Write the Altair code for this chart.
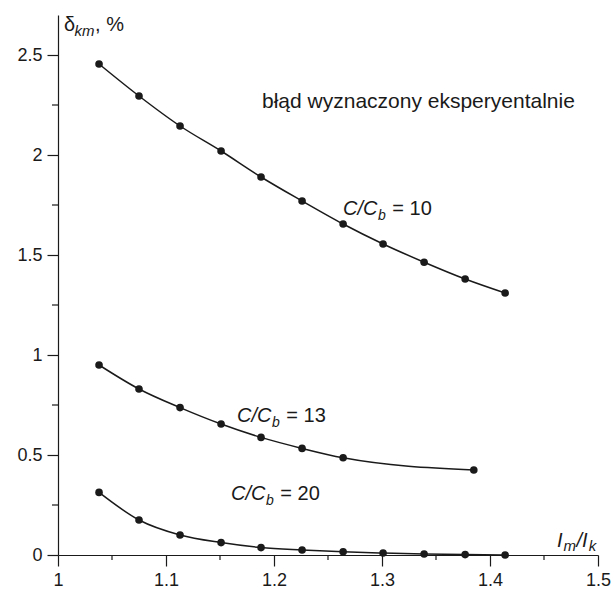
import altair as alt
import pandas as pd

# ---- data ----
x_cb10 = [1.038, 1.075, 1.113, 1.151, 1.188, 1.226, 1.264, 1.301, 1.339, 1.377, 1.414]
y_cb10 = [2.455, 2.295, 2.145, 2.02, 1.89, 1.77, 1.655, 1.555, 1.464, 1.38, 1.31]

x_cb13 = [1.038, 1.075, 1.113, 1.151, 1.188, 1.226, 1.264, 1.385]
y_cb13 = [0.95, 0.83, 0.737, 0.655, 0.588, 0.533, 0.486, 0.425]

x_cb20 = [1.038, 1.075, 1.113, 1.151, 1.188, 1.226, 1.264, 1.301, 1.339, 1.377, 1.414]
y_cb20 = [0.313, 0.175, 0.10, 0.062, 0.037, 0.025, 0.016, 0.01, 0.005, 0.002, 0.0]

x_major_ticks = [1.0, 1.1, 1.2, 1.3, 1.4, 1.5]
x_minor_ticks = [1.05, 1.15, 1.25, 1.35, 1.45]
y_major_ticks = [0, 0.5, 1.0, 1.5, 2.0, 2.5]
y_minor_ticks = [0.25, 0.75, 1.25, 1.75, 2.25]

annotation = "błąd wyznaczony eksperyentalnie"

rows = []
for name, xs, ys in [("10", x_cb10, y_cb10), ("13", x_cb13, y_cb13), ("20", x_cb20, y_cb20)]:
    for xv, yv in zip(xs, ys):
        rows.append({"series": name, "x": xv, "y": yv})
df = pd.DataFrame(rows)

FONT = "Liberation Sans"
INK = "#1a1a1a"
W, H = 540, 540
PAD_L, PAD_T = 58, 15

xscale = alt.Scale(domain=[1, 1.5], nice=False, zero=False)
yscale = alt.Scale(domain=[0, 2.7], nice=False)

common_axis = dict(
    title=None, grid=False, tickSize=11, labelFontSize=18, labelFont=FONT,
    labelColor=INK, labelPadding=5, domainColor=INK, tickColor=INK,
    domainWidth=1.2, tickWidth=1.2, labelOverlap=False, labelFlush=False,
    format="~g",
)
xaxis = alt.Axis(values=x_major_ticks, **common_axis)
yaxis = alt.Axis(values=y_major_ticks, **common_axis)

base = alt.Chart(df).encode(
    x=alt.X("x:Q", scale=xscale, axis=xaxis),
    y=alt.Y("y:Q", scale=yscale, axis=yaxis),
    detail="series:N",
)
lines = base.mark_line(color=INK, strokeWidth=1.5, interpolate="monotone")
pts = base.mark_circle(color=INK, size=58, opacity=1)

# minor ticks (short, outward)
xminor = alt.Chart(pd.DataFrame({"xm": x_minor_ticks})).mark_rule(
    color=INK, strokeWidth=1.2
).encode(x=alt.X("xm:Q", scale=xscale, axis=xaxis), y=alt.value(H), y2=alt.value(H + 5))
yminor = alt.Chart(pd.DataFrame({"ym": y_minor_ticks})).mark_rule(
    color=INK, strokeWidth=1.2
).encode(y=alt.Y("ym:Q", scale=yscale, axis=yaxis), x=alt.value(0), x2=alt.value(-6))

# ---- text pieces (annotations) ----
CW = {"C": 722, "/": 278, "b": 556, " ": 278, "=": 584, "I": 278, "m": 833, "k": 500,
      "δ": 556, ",": 278, "%": 889}
for d in "0123456789":
    CW[d] = 556

def width(s, size):
    return sum(CW.get(c, 556) for c in s) * size / 1000.0

one = pd.DataFrame({"k": [0]})

def piece(text, x, y, size, style="normal", align="left"):
    return alt.Chart(one).mark_text(
        text=text, font=FONT, fontSize=size, fontStyle=style, color=INK,
        align=align, baseline="alphabetic",
    ).encode(x=alt.value(x), y=alt.value(y))

def ratio_label(num, x0, y0, size=20, sub=14):
    px = x0 - PAD_L
    py = y0 - PAD_T
    parts = [piece("C/C", px, py, size, "italic")]
    px += width("C/C", size) + 0.5
    parts.append(piece("b", px, py + 5, sub, "italic"))
    px += width("b", sub) + width(" ", size) + 1
    parts.append(piece("= " + num, px, py, size))
    return parts

texts = []
texts += ratio_label("10", 343, 215)
texts += ratio_label("13", 237, 422)
texts += ratio_label("20", 231, 500)

# y-axis title: δ_km, %
tx = 64 - PAD_L
texts.append(piece("δ", tx, 31 - PAD_T, 20))
tx += width("δ", 20) - 0.5
texts.append(piece("km", tx, 36 - PAD_T, 15, "italic"))
tx += width("km", 15) + 0.5
texts.append(piece(", %", tx, 31 - PAD_T, 20))

# x-axis title: I_m/I_k
tx = 557 - PAD_L
texts.append(piece("I", tx, 547 - PAD_T, 20, "italic"))
tx += width("I", 20) + 1
texts.append(piece("m", tx, 551 - PAD_T, 15, "italic"))
tx += width("m", 15) + 0.5
texts.append(piece("/I", tx, 547 - PAD_T, 20, "italic"))
tx += width("/I", 20) + 1
texts.append(piece("k", tx, 551 - PAD_T, 15, "italic"))

texts.append(piece(annotation, 262 - PAD_L, 108 - PAD_T, 21))

chart = alt.layer(lines, pts, xminor, yminor, *texts).properties(
    width=W, height=H,
    autosize=alt.AutoSizeParams(type="none"),
    padding={"left": PAD_L, "top": PAD_T, "right": 614 - PAD_L - W, "bottom": 590 - PAD_T - H},
    background="white",
).configure_view(stroke=None)

chart.save("out.html", embed_options={"renderer": "svg", "actions": False})
